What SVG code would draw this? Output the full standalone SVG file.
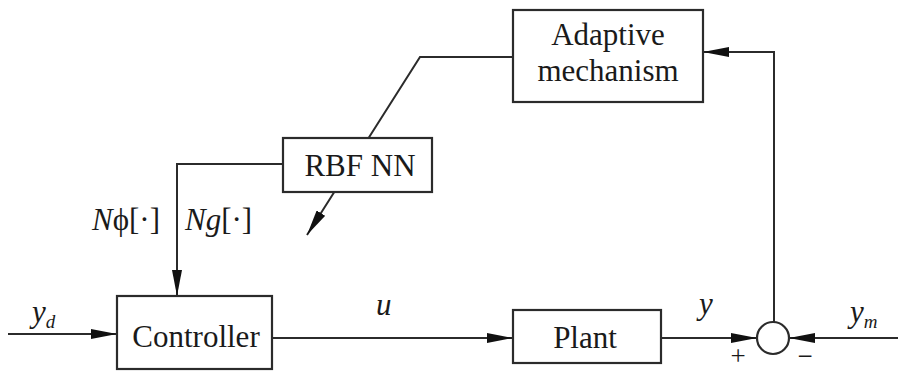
<svg xmlns="http://www.w3.org/2000/svg" width="898" height="372" viewBox="0 0 898 372">
<style>
.ln{fill:none;stroke:#2b2b2b;stroke-width:2}
.bx{fill:#fff;stroke:#2b2b2b;stroke-width:2.2}
.t{font-family:"Liberation Serif","DejaVu Serif","Times New Roman",serif;font-size:31px;fill:#1a1a1a}
.i{font-style:italic}
.s{font-size:19px}
.pm{font-size:27px}
</style>
<defs>
<marker id="ah" viewBox="0 0 26 10" refX="26" refY="5" markerWidth="26" markerHeight="10" markerUnits="userSpaceOnUse" orient="auto">
<path d="M0,0 L26,5 L0,10 Z" fill="#111"/>
</marker>
</defs>
<g id="connectors">
<line class="ln" x1="8" y1="334" x2="117" y2="334" marker-end="url(#ah)"/>
<line class="ln" x1="272" y1="338" x2="513" y2="338" marker-end="url(#ah)"/>
<line class="ln" x1="661" y1="338" x2="757" y2="338" marker-end="url(#ah)"/>
<line class="ln" x1="898" y1="338" x2="789" y2="338" marker-end="url(#ah)"/>
<polyline class="ln" points="774,322 774,52 703,52" marker-end="url(#ah)"/>
<polyline class="ln" points="513,57 420,57 307,235" marker-end="url(#ah)"/>
<polyline class="ln" points="283,164 177,164 177,296" marker-end="url(#ah)"/>
</g>
<g id="controller">
<rect class="bx" x="117" y="296" width="155" height="73"/>
<text class="t" x="196" y="347" text-anchor="middle">Controller</text>
</g>
<g id="plant">
<rect class="bx" x="513" y="310" width="148" height="53"/>
<text class="t" x="585" y="348" text-anchor="middle">Plant</text>
</g>
<g id="rbf">
<rect class="bx" x="283" y="138" width="149" height="54"/>
<text class="t" x="360" y="176" text-anchor="middle">RBF NN</text>
</g>
<g id="adaptive">
<rect class="bx" x="513" y="10" width="190" height="92"/>
<text class="t" x="608" y="45" text-anchor="middle">Adaptive</text>
<text class="t" x="608" y="81" text-anchor="middle">mechanism</text>
</g>
<g id="sum">
<circle cx="773" cy="338" r="16" fill="#fff" stroke="#2b2b2b" stroke-width="2.2"/>
<text class="t pm" x="738" y="365" text-anchor="middle">+</text>
<text class="t pm" x="805" y="365" text-anchor="middle">−</text>
</g>
<g id="labels">
<text class="t" x="32" y="322"><tspan class="i">y</tspan><tspan class="i s" dy="6">d</tspan></text>
<text class="t i" x="376" y="315">u</text>
<text class="t i" x="699" y="314">y</text>
<text class="t" x="850" y="322"><tspan class="i">y</tspan><tspan class="i s" dy="6">m</tspan></text>
<text class="t" x="92" y="230"><tspan class="i">N</tspan>ϕ[·]</text>
<text class="t" x="185" y="230"><tspan class="i">Ng</tspan>[·]</text>
</g>
</svg>
